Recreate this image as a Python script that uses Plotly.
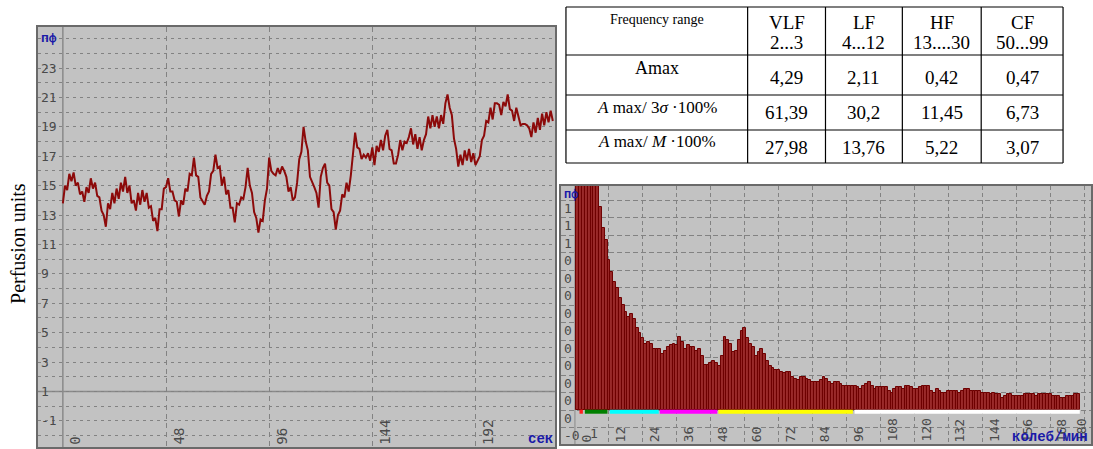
import plotly.graph_objects as go

W, H = 1093, 449

# ---------------- data: perfusion trace (1 sample per second) ----------------
perf_values = [
    13.8, 15.0, 14.7, 15.8, 15.3, 15.9, 15.0, 15.2, 14.4, 14.6,
    13.9, 14.9, 14.5, 15.5, 14.8, 15.2, 14.3, 14.2, 13.3, 13.0,
    12.2, 13.8, 13.4, 14.5, 13.8, 14.8, 14.1, 15.2, 14.6, 15.6,
    14.5, 15.0, 13.8, 14.0, 13.3, 14.5, 13.7, 14.7, 13.9, 14.5,
    13.5, 13.6, 12.6, 12.8, 11.9, 13.4, 13.4, 14.8, 14.9, 15.5,
    14.6, 14.6, 14.0, 13.9, 12.9, 14.0, 13.7, 14.8, 14.6, 15.8,
    15.7, 16.9, 15.7, 15.6, 14.2, 13.9, 13.7, 14.3, 14.6, 15.8,
    16.0, 17.1, 16.2, 16.3, 15.0, 15.6, 14.4, 14.7, 13.5, 13.5,
    12.5, 13.8, 13.7, 14.2, 14.1, 14.9, 16.2, 15.0, 14.5, 13.2,
    12.8, 11.8, 12.7, 12.6, 14.0, 14.8, 16.9, 16.0, 15.8, 15.7,
    16.2, 15.8, 16.3, 16.0, 15.6, 14.6, 14.9, 14.0, 14.2, 15.2,
    16.8, 17.3, 19.0, 18.0, 17.4, 15.6, 15.3, 14.9, 14.5, 13.5,
    15.6, 16.2, 16.5, 15.2, 15.0, 13.4, 13.2, 12.0, 13.0, 13.3,
    14.4, 14.2, 15.2, 14.6, 15.7, 17.4, 18.6, 17.6, 17.5, 16.8,
    17.1, 16.9, 17.2, 16.7, 17.6, 16.4, 17.7, 17.3, 18.1, 17.4,
    18.4, 18.8, 17.5, 17.4, 16.5, 16.5, 17.1, 18.1, 17.4, 18.0,
    17.9, 18.3, 18.9, 17.8, 18.5, 17.5, 18.3, 17.4, 18.1, 18.5,
    19.7, 18.9, 19.8, 19.0, 19.7, 18.9, 19.8, 19.2, 20.6, 21.2,
    20.3, 19.8, 18.2, 17.5, 16.3, 17.1, 16.4, 17.4, 16.7, 17.5,
    16.6, 17.2, 16.4, 16.7, 17.0, 18.1, 18.4, 19.4, 19.3, 20.3,
    19.5, 20.6, 20.6, 20.5, 19.8, 20.7, 20.4, 21.2, 20.2, 20.1,
    19.4, 20.3, 19.6, 19.1, 19.2, 19.2, 19.1, 18.9, 18.3, 19.3,
    18.6, 19.6, 18.8, 19.9, 19.1, 20.0, 19.3, 20.1, 19.4,
]
perf_time = list(range(len(perf_values)))

perf_ytick_vals = [25, 23, 21, 19, 17, 15, 13, 11, 9, 7, 5, 3, 1, -1]
perf_ytick_text = ["пф", "23", "21", "19", "17", "15", "13", "11", "9", "7", "5", "3", "1", "-1"]
perf_xtick_vals = [0, 48, 96, 144, 192]
perf_xtick_text = ["0", "48", "96", "144", "192"]

# ---------------- data: spectrum bars ----------------
bar_amp = [
    2.40, 4.29, 3.85, 2.11, 1.95, 1.75, 1.55, 1.38,
    1.16, 1.04, 0.97, 0.86, 0.79, 0.73, 0.70, 0.64, 0.60, 0.56,
    0.53, 0.55, 0.52, 0.47, 0.44, 0.41, 0.38, 0.39, 0.38, 0.35,
    0.35, 0.35, 0.32, 0.34, 0.36, 0.37, 0.38, 0.37, 0.42, 0.39,
    0.35, 0.37, 0.36, 0.36, 0.34, 0.35, 0.31, 0.26, 0.26, 0.27,
    0.28, 0.27, 0.25, 0.31, 0.42, 0.40, 0.38, 0.33, 0.34, 0.40,
    0.45, 0.47, 0.41, 0.38, 0.36, 0.31, 0.33, 0.35, 0.32, 0.28,
    0.25, 0.24, 0.23, 0.23, 0.22, 0.21, 0.22, 0.22, 0.19, 0.18, 0.17,
    0.19, 0.19, 0.18, 0.17, 0.16, 0.16, 0.16, 0.17, 0.19, 0.18,
    0.16, 0.15, 0.16, 0.16, 0.15, 0.14, 0.14, 0.14, 0.14, 0.14,
    0.13, 0.12, 0.14, 0.15, 0.16, 0.14, 0.12, 0.13, 0.13, 0.13,
    0.13, 0.11, 0.10, 0.12, 0.13, 0.13, 0.12, 0.14, 0.14, 0.13,
    0.12, 0.12, 0.13, 0.14, 0.14, 0.14, 0.11, 0.10, 0.12, 0.11,
    0.10, 0.10, 0.11, 0.11, 0.11, 0.11, 0.10, 0.11, 0.12, 0.12,
    0.11, 0.11, 0.11, 0.11, 0.10, 0.10, 0.10, 0.09, 0.10, 0.09,
    0.09, 0.07, 0.08, 0.09, 0.09, 0.08, 0.08, 0.08, 0.08, 0.09,
    0.09, 0.09, 0.09, 0.08, 0.09, 0.09, 0.09, 0.09, 0.09, 0.08,
    0.08, 0.08, 0.07, 0.07, 0.08, 0.08, 0.08, 0.09, 0.09,
]
bar_freq = list(range(1, len(bar_amp) + 1))

bar_ytick_vals = [1.2, 1.1, 1.0, 0.9, 0.8, 0.7, 0.6, 0.5, 0.4, 0.3, 0.2, 0.1, 0.0, -0.1]
bar_ytick_text = ["1", "1", "1", "0", "0", "0", "0", "0", "0", "0", "0", "0", "0", "-0"]
bar_xtick_vals = [0, 12, 24, 36, 48, 60, 72, 84, 96, 108, 120, 132, 144, 156, 168, 180]
bar_xtick_text = ["0", "12", "24", "36", "48", "60", "72", "84", "96", "108", "120", "132", "144", "156", "168", "180"]

band_start = [1.6, 3.5, 12.3, 30.0, 50.7, 98.8]
band_end = [2.8, 11.5, 29.6, 50.3, 98.2, 178.4]
band_color = ["#ff2020", "#008000", "#00ffff", "#ff00ff", "#ffff00", "#ffffff"]

# ---------------- data: table ----------------
header_line1 = ["Frequency range", "VLF", "LF", "HF", "CF"]
header_line2 = ["", "2...3", "4...12", "13....30", "50...99"]
row_labels = ["Amax", "<i>A</i> max/ 3<i>σ</i> ·100%", "<i>A</i> max/ <i>M</i> ·100%"]
vlf_vals = ["4,29", "61,39", "27,98"]
lf_vals = ["2,11", "30,2", "13,76"]
hf_vals = ["0,42", "11,45", "5,22"]
cf_vals = ["0,47", "6,73", "3,07"]

# table geometry (pixels)
col_edges = [567, 749, 827, 904, 983, 1065]
row_edges = [7, 55, 95, 130, 163]
label_y = [68, 107, 142]
value_y = [77, 113, 148]

# ---------------- styles ----------------
BG = "#c2c2c2"
GRID = "#828282"
RED = "#8c0a0a"
BLUE = "#1a1aa8"
MONO = "DejaVu Sans Mono"
SERIF = "Liberation Serif"


def px(x):
    return x / W


def py(y):
    return 1 - y / H


fig = go.Figure()

fig.add_trace(go.Scatter(
    x=perf_time, y=perf_values, mode="lines",
    line=dict(color=RED, width=2), xaxis="x", yaxis="y", showlegend=False,
))

fig.add_trace(go.Bar(
    x=bar_freq, y=bar_amp, xaxis="x2", yaxis="y2", width=1,
    marker=dict(color="#9a2a2a", line=dict(color="#6e0000", width=1)),
    showlegend=False,
))

ann = []
shapes = []

# ----- table (lines + text) -----
tline = dict(color="black", width=1.2)
for xe in col_edges:
    shapes.append(dict(type="line", xref="paper", yref="paper", x0=px(xe), x1=px(xe),
                       y0=py(row_edges[0]), y1=py(row_edges[-1]), line=tline))
for ye in row_edges:
    shapes.append(dict(type="line", xref="paper", yref="paper", x0=px(col_edges[0]),
                       x1=px(col_edges[-1]), y0=py(ye), y1=py(ye), line=tline))
col_centers = [(col_edges[i] + col_edges[i + 1]) / 2 for i in range(5)]
for i, (t1, t2) in enumerate(zip(header_line1, header_line2)):
    size = 14 if i == 0 else 19
    ann.append(dict(xref="paper", yref="paper", x=px(col_centers[i]), y=py(20 if i == 0 else 22),
                    text=t1, showarrow=False, xanchor="center", yanchor="middle",
                    font=dict(family=SERIF, size=size, color="black")))
    if t2:
        ann.append(dict(xref="paper", yref="paper", x=px(col_centers[i]), y=py(42),
                        text=t2, showarrow=False, xanchor="center", yanchor="middle",
                        font=dict(family=SERIF, size=19, color="black")))
for r, lab in enumerate(row_labels):
    ann.append(dict(xref="paper", yref="paper", x=px(col_centers[0]), y=py(label_y[r]),
                    text=lab, showarrow=False, xanchor="center", yanchor="middle",
                    font=dict(family=SERIF, size=18 if r == 0 else 17, color="black")))
for c, col in enumerate([vlf_vals, lf_vals, hf_vals, cf_vals]):
    for r, val in enumerate(col):
        ann.append(dict(xref="paper", yref="paper", x=px(col_centers[c + 1]), y=py(value_y[r]),
                        text=val, showarrow=False, xanchor="center", yanchor="middle",
                        font=dict(family=SERIF, size=19, color="black")))

# ----- left chart labels -----
for v, t in zip(perf_ytick_vals, perf_ytick_text):
    if t == "пф":
        f = dict(family="Liberation Mono", size=13, color=BLUE)
        t = "<b>" + t + "</b>"
    else:
        f = dict(family=MONO, size=13, color="#4a4a4a")
    ann.append(dict(xref="paper", yref="y", x=px(39), y=v, text=t, xanchor="left",
                    yanchor="middle", showarrow=False, font=f))
for v, t in zip(perf_xtick_vals, perf_xtick_text):
    ann.append(dict(xref="x", yref="paper", x=v, y=py(447), text=t, textangle=-90,
                    xanchor="left", yanchor="bottom", xshift=2, yshift=0, showarrow=False,
                    font=dict(family=MONO, size=14, color="#4a4a4a")))
ann.append(dict(xref="paper", yref="paper", x=px(556), y=py(439), text="<b>сек</b>",
                xanchor="right", yanchor="middle", showarrow=False,
                font=dict(family="Liberation Mono", size=14, color=BLUE)))
ann.append(dict(xref="paper", yref="paper", x=px(18), y=py(243), text="Perfusion units",
                textangle=-90, xanchor="center", yanchor="middle", showarrow=False,
                font=dict(family=SERIF, size=20, color="black")))

# ----- bar chart labels -----
for v, t in zip(bar_ytick_vals, bar_ytick_text):
    ann.append(dict(xref="paper", yref="y2", x=px(563), y=v, text=t, xanchor="left",
                    yanchor="middle", yshift=-8, showarrow=False,
                    font=dict(family=MONO, size=13, color="#4a4a4a")))
ann.append(dict(xref="paper", yref="paper", x=px(563), y=py(195), text="<b>пф</b>",
                xanchor="left", yanchor="middle", showarrow=False,
                font=dict(family="Liberation Mono", size=12, color=BLUE)))
for v, t in zip(bar_xtick_vals, bar_xtick_text):
    if v == bar_xtick_vals[-1]:
        pos = dict(xref="paper", x=1.0, xanchor="right", xshift=0)
    else:
        pos = dict(xref="x2", x=v, xanchor="left", xshift=2)
    ann.append(dict(yref="paper", y=py(444), text=t, textangle=-90,
                    yanchor="bottom", yshift=0, showarrow=False,
                    font=dict(family=MONO, size=13, color="#4a4a4a"), **pos))
ann.append(dict(xref="paper", yref="paper", x=px(595), y=py(433), text="1",
                xanchor="center", yanchor="middle", showarrow=False,
                font=dict(family=MONO, size=13, color="#4a4a4a")))
ann.append(dict(xref="paper", yref="paper", x=px(1092), y=py(437), text="<b>колеб/мин</b>",
                xanchor="right", yanchor="middle", showarrow=False,
                font=dict(family="Liberation Mono", size=14, color=BLUE)))

# ----- reference lines and frequency band strip -----
shapes.append(dict(type="line", xref="x", yref="y domain", x0=0, x1=0, y0=0, y1=1,
                   line=dict(color="#8a8a8a", width=1.5), layer="below"))
shapes.append(dict(type="line", xref="x domain", yref="y", x0=0, x1=1, y0=1, y1=1,
                   line=dict(color="#8a8a8a", width=1.5), layer="below"))
shapes.append(dict(type="line", xref="x2", yref="y2 domain", x0=0, x1=0, y0=0, y1=1,
                   line=dict(color="#8a8a8a", width=1), layer="below"))
for s, e, c in zip(band_start, band_end, band_color):
    shapes.append(dict(type="rect", xref="x2", yref="y2", x0=s, x1=e, y0=-0.021, y1=0.002,
                       fillcolor=c, line=dict(width=0)))

axis_common = dict(showline=True, mirror=True, linecolor="#6a6a6a", linewidth=1.5,
                   zeroline=False, showticklabels=False, ticks="")

fig.update_layout(
    width=W, height=H, margin=dict(l=0, r=0, t=0, b=0),
    paper_bgcolor="white", plot_bgcolor=BG, bargap=0, showlegend=False,
    xaxis=dict(domain=[px(38), px(556)], range=[-11.6, 229.0], anchor="y",
               tickvals=perf_xtick_vals[1:], showgrid=True, gridcolor=GRID, gridwidth=1,
               griddash="5px,4px", **axis_common),
    yaxis=dict(domain=[py(447), py(27)], range=[-2.78, 25.79], anchor="x",
               tick0=0, dtick=1, showgrid=True, gridcolor=GRID, gridwidth=1,
               griddash="3px,4px", **axis_common),
    xaxis2=dict(domain=[px(562), 1.0], range=[-4.94, 182.36], anchor="y2",
                tickvals=bar_xtick_vals[1:], showgrid=True, gridcolor=GRID, gridwidth=1,
                griddash="4px,3px", **axis_common),
    yaxis2=dict(domain=[py(444), py(186)], range=[-0.194, 1.28], anchor="x2",
                tick0=0, dtick=0.1, showgrid=True, gridcolor=GRID, gridwidth=1,
                griddash="5px,3px", **axis_common),
    annotations=ann, shapes=shapes,
)

fig.write_html(
    "out.html",
    config={"displayModeBar": False},
    post_script="document.body.style.margin='0px';document.body.style.overflow='hidden';",
)
